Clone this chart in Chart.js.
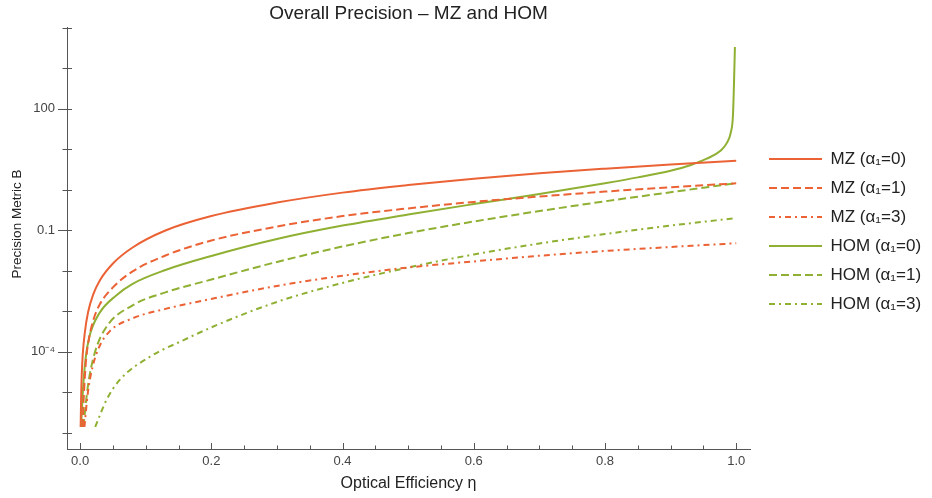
<!DOCTYPE html>
<html>
<head>
<meta charset="utf-8">
<script src="https://cdn.jsdelivr.net/npm/chart.js@4.4.1/dist/chart.umd.min.js"></script>
<style>
  html, body { margin: 0; padding: 0; background: #fff; }
  #wrap { width: 932px; height: 498px; }
</style>
</head>
<body>
<div id="wrap"><canvas id="chart" width="932" height="498"></canvas></div>
<script>
// Optical efficiency (eta) samples and precision metric B
const mz0Eta = [0.0008, 0.0015, 0.0025, 0.004, 0.007, 0.012, 0.02, 0.03, 0.05, 0.08, 0.13, 0.2, 0.3, 0.4, 0.5, 0.6, 0.7, 0.8, 0.9, 1.0];
const mz0B = [1.4e-6, 7.2e-6, 2.8e-5, 8.7e-5, 2.87e-4, 9.4e-4, 2.62e-3, 5.8e-3, 0.0152, 0.0377, 0.0989, 0.225, 0.484, 0.853, 1.31, 1.89, 2.56, 3.33, 4.25, 5.24];

const mz1Eta = [0.004, 0.005, 0.0065, 0.009, 0.013, 0.02, 0.03, 0.05, 0.08, 0.13, 0.2, 0.3, 0.4, 0.5, 0.6, 0.7, 0.8, 0.9, 1.0];
const mz1B = [1.4e-6, 4.8e-6, 1.5e-5, 6.2e-5, 1.93e-4, 6.0e-4, 1.49e-3, 3.9e-3, 9.7e-3, 0.0239, 0.0561, 0.124, 0.225, 0.348, 0.504, 0.684, 0.904, 1.16, 1.445];

const mz3Eta = [0.0066, 0.0117, 0.019, 0.029, 0.045, 0.08, 0.13, 0.2, 0.3, 0.4, 0.5, 0.6, 0.7, 0.8, 0.9, 1.0];
const mz3B = [1.4e-6, 9.5e-6, 4.25e-5, 1.32e-4, 3.21e-4, 6.73e-4, 1.15e-3, 2.03e-3, 4.25e-3, 7.57e-3, 0.0121, 0.0171, 0.0236, 0.0309, 0.0388, 0.0481];

const hom0Eta = [0.0015, 0.004, 0.008, 0.014, 0.029, 0.055, 0.08, 0.13, 0.2, 0.3, 0.4, 0.5, 0.6, 0.7, 0.8, 0.85, 0.9, 0.93, 0.955, 0.976, 0.986, 0.992, 0.995, 0.9965, 0.998];
const hom0B = [1.4e-6, 9.4e-6, 6.2e-5, 2.33e-4, 8.8e-4, 2.48e-3, 4.8e-3, 0.0105, 0.0233, 0.0611, 0.131, 0.246, 0.445, 0.792, 1.46, 2.03, 2.97, 4.06, 5.86, 9.25, 14.6, 27.1, 67.3, 369, 3365];

const hom1Eta = [0.005, 0.0117, 0.022, 0.04, 0.08, 0.13, 0.2, 0.3, 0.4, 0.5, 0.6, 0.7, 0.8, 0.9, 1.0];
const hom1B = [1.4e-6, 1.37e-5, 9.1e-5, 4.1e-4, 1.41e-3, 2.94e-3, 6.1e-3, 0.0166, 0.0399, 0.0857, 0.165, 0.299, 0.521, 0.873, 1.46];

const hom3Eta = [0.023, 0.04, 0.06, 0.106, 0.157, 0.207, 0.3, 0.4, 0.5, 0.6, 0.7, 0.8, 0.9, 1.0];
const hom3B = [1.4e-6, 6.4e-6, 2.0e-5, 7.5e-5, 1.93e-4, 4.5e-4, 1.71e-3, 5.03e-3, 0.0121, 0.0254, 0.0473, 0.081, 0.131, 0.201];

// Axis ticks
const xTickValues = [0, 0.2, 0.4, 0.6, 0.8, 1.0];
const xMinorTicks = [0, 0.05, 0.1, 0.15, 0.2, 0.25, 0.3, 0.35, 0.4, 0.45, 0.5, 0.55, 0.6, 0.65, 0.7, 0.75, 0.8, 0.85, 0.9, 0.95, 1.0];
const yTickValues = [1e-4, 0.1, 100];
const yTickLabels = ["10\u207B\u2074", "0.1", "100"];
const yMinorTicks = [1e-6, 1e-5, 1e-4, 1e-3, 1e-2, 0.1, 1, 10, 100, 1e3, 1e4];

const ORANGE = "#EB6235";
const GREEN = "#8FB032";
const AXIS = "#555555";
const DASHED = [8, 4];
const DASH_DOT = [6, 4, 2, 4];
const FONT = "'Liberation Sans', Arial, sans-serif";

Chart.defaults.font.family = FONT;
Chart.defaults.color = "#333";

function series(label, eta, b, color, dash) {
  return {
    label,
    data: eta.map((x, i) => ({ x, y: b[i] })),
    borderColor: color,
    backgroundColor: color,
    borderWidth: 2,
    borderDash: dash,
    pointRadius: 0,
    fill: false,
    cubicInterpolationMode: "monotone",
  };
}

// Mathematica-style tick marks: x ticks point up into the plot, y ticks straddle the axis
const axisTicks = {
  id: "axisTicks",
  afterDraw(chart) {
    const { ctx, scales: { x, y } } = chart;
    ctx.save();
    ctx.strokeStyle = AXIS;
    ctx.lineWidth = 1;
    ctx.beginPath();
    xMinorTicks.forEach((v) => {
      const px = Math.round(x.getPixelForValue(v)) + 0.5;
      const len = xTickValues.includes(v) ? 6 : 3.5;
      ctx.moveTo(px, x.top);
      ctx.lineTo(px, x.top - len);
    });
    yMinorTicks.forEach((v) => {
      const py = Math.round(y.getPixelForValue(v)) + 0.5;
      const out = yTickValues.includes(v) ? 9 : 4.5;
      ctx.moveTo(y.right - out, py);
      ctx.lineTo(y.right + 5, py);
    });
    ctx.stroke();

    // y axis title sits a little above the middle of the axis in the reference
    ctx.translate(17, 224);
    ctx.rotate(-Math.PI / 2);
    ctx.fillStyle = "#222";
    ctx.font = "13.5px " + FONT;
    ctx.textAlign = "center";
    ctx.textBaseline = "middle";
    ctx.fillText("Precision Metric B", 0, 0);
    ctx.restore();
  },
};

// nudge the legend block to where the reference puts it
const legendOffset = {
  id: "legendOffset",
  afterLayout(chart) {
    const lg = chart.legend;
    lg.left += 7;
    lg.right += 7;
    lg.top -= 7;
    lg.bottom -= 7;
  },
};

new Chart(document.getElementById("chart"), {
  type: "line",
  data: {
    datasets: [
      series("MZ (\u03B1\u2081=0)", mz0Eta, mz0B, ORANGE, []),
      series("MZ (\u03B1\u2081=1)", mz1Eta, mz1B, ORANGE, DASHED),
      series("MZ (\u03B1\u2081=3)", mz3Eta, mz3B, ORANGE, DASH_DOT),
      series("HOM (\u03B1\u2081=0)", hom0Eta, hom0B, GREEN, []),
      series("HOM (\u03B1\u2081=1)", hom1Eta, hom1B, GREEN, DASHED),
      series("HOM (\u03B1\u2081=3)", hom3Eta, hom3B, GREEN, DASH_DOT),
    ],
  },
  options: {
    responsive: false,
    animation: false,
    layout: { padding: { top: 0, right: 12, bottom: 0, left: 0 } },
    plugins: {
      title: {
        display: true,
        text: "Overall Precision \u2013 MZ and HOM",
        fullSize: false,
        color: "#222",
        font: { size: 19, weight: "normal" },
        padding: { top: 2, bottom: 3 },
      },
      legend: {
        position: "right",
        fullSize: false,
        maxWidth: 170,
        labels: {
          usePointStyle: true,
          pointStyle: "line",
          pointStyleWidth: 53,
          padding: 12,
          color: "#222",
          font: { size: 17 },
          // carry each dataset's dash pattern into its legend sample
          generateLabels: (chart) =>
            Chart.defaults.plugins.legend.labels.generateLabels(chart).map((item) => ({
              ...item,
              lineDash: chart.data.datasets[item.datasetIndex].borderDash,
              lineWidth: 2,
            })),
        },
      },
      tooltip: { enabled: false },
    },
    scales: {
      x: {
        type: "linear",
        min: -0.02,
        max: 1.021,
        afterBuildTicks: (s) => { s.ticks = xTickValues.map((v) => ({ value: v })); },
        afterFit: (s) => { s.height = 49; },
        grid: { display: false, drawTicks: false },
        border: { display: true, color: AXIS, width: 1 },
        ticks: {
          autoSkip: false,
          maxRotation: 0,
          padding: 5,
          color: "#444",
          font: { size: 13 },
          callback: (v) => Number(v).toFixed(1),
        },
        title: {
          display: true,
          text: "Optical Efficiency \u03B7",
          color: "#222",
          font: { size: 16 },
          padding: { top: 6, bottom: 5 },
        },
      },
      y: {
        type: "logarithmic",
        min: 4e-7,
        max: 1e4,
        afterBuildTicks: (s) => { s.ticks = yTickValues.map((v) => ({ value: v })); },
        afterFit: (s) => { s.width = 67; },
        grid: { display: false, drawTicks: false },
        border: { display: true, color: AXIS, width: 1 },
        ticks: {
          autoSkip: false,
          padding: 12,
          color: "#444",
          font: { size: 13 },
          callback: (v) => {
            const i = yTickValues.indexOf(v);
            return i >= 0 ? yTickLabels[i] : "";
          },
        },
        title: { display: false },
      },
    },
  },
  plugins: [axisTicks, legendOffset],
});
</script>
</body>
</html>
